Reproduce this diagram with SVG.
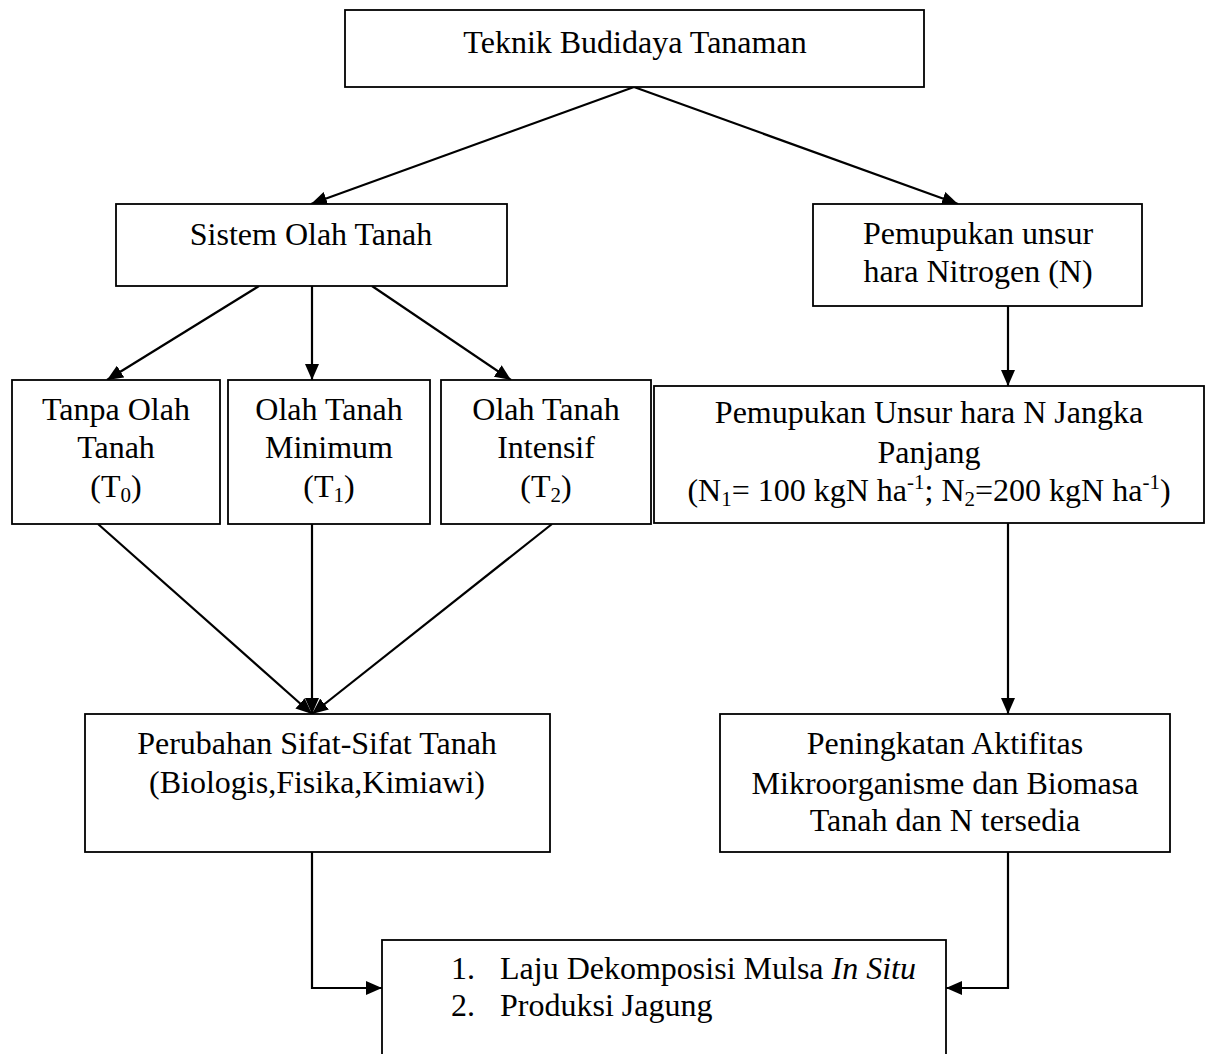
<svg xmlns="http://www.w3.org/2000/svg" width="1208" height="1054" viewBox="0 0 1208 1054">
<style>
.box{fill:#fff;stroke:#000;stroke-width:1.8}
.t{font-family:"Liberation Serif","Times New Roman",serif;font-size:32px;fill:#000;text-anchor:middle}
.l{text-anchor:start}
.s{font-size:21px}
.c{fill:none;stroke:#000;stroke-width:2.2}
</style>
<defs>
<marker id="ah" viewBox="0 0 16 14" refX="16" refY="7" markerWidth="16" markerHeight="14" markerUnits="userSpaceOnUse" orient="auto">
<path d="M0,0 L16,7 L0,14 Z" fill="#000"/>
</marker>
</defs>
<rect width="1208" height="1054" fill="#fff"/>
<g id="connectors">
<line class="c" x1="634" y1="87" x2="311" y2="204" marker-end="url(#ah)"/>
<line class="c" x1="634" y1="87" x2="958" y2="204" marker-end="url(#ah)"/>
<line class="c" x1="259" y1="286" x2="107" y2="380" marker-end="url(#ah)"/>
<line class="c" x1="312" y1="286" x2="312" y2="380" marker-end="url(#ah)"/>
<line class="c" x1="372" y1="286" x2="511" y2="380" marker-end="url(#ah)"/>
<line class="c" x1="1008" y1="306" x2="1008" y2="386" marker-end="url(#ah)"/>
<line class="c" x1="98" y1="524" x2="312" y2="714" marker-end="url(#ah)"/>
<line class="c" x1="312" y1="524" x2="312" y2="714" marker-end="url(#ah)"/>
<line class="c" x1="552" y1="524" x2="312" y2="714" marker-end="url(#ah)"/>
<line class="c" x1="1008" y1="523" x2="1008" y2="714" marker-end="url(#ah)"/>
<polyline class="c" points="312,852 312,988 382,988" marker-end="url(#ah)"/>
<polyline class="c" points="1008,852 1008,988 946,988" marker-end="url(#ah)"/>
</g>
<g id="n-teknik">
<rect class="box" x="345" y="10" width="579" height="77"/>
<text class="t" x="635" y="53">Teknik Budidaya Tanaman</text>
</g>
<g id="n-sistem">
<rect class="box" x="116" y="204" width="391" height="82"/>
<text class="t" x="311" y="245">Sistem Olah Tanah</text>
</g>
<g id="n-pemupukan">
<rect class="box" x="813" y="204" width="329" height="102"/>
<text class="t" x="978" y="244">Pemupukan unsur</text>
<text class="t" x="978" y="282">hara Nitrogen (N)</text>
</g>
<g id="n-t0">
<rect class="box" x="12" y="380" width="208" height="144"/>
<text class="t" x="116" y="420">Tanpa Olah</text>
<text class="t" x="116" y="458">Tanah</text>
<text class="t" x="116" y="497">(T<tspan class="s" dy="5">0</tspan><tspan dy="-5">)</tspan></text>
</g>
<g id="n-t1">
<rect class="box" x="228" y="380" width="202" height="144"/>
<text class="t" x="329" y="420">Olah Tanah</text>
<text class="t" x="329" y="458">Minimum</text>
<text class="t" x="329" y="497">(T<tspan class="s" dy="5">1</tspan><tspan dy="-5">)</tspan></text>
</g>
<g id="n-t2">
<rect class="box" x="441" y="380" width="210" height="144"/>
<text class="t" x="546" y="420">Olah Tanah</text>
<text class="t" x="546" y="458">Intensif</text>
<text class="t" x="546" y="497">(T<tspan class="s" dy="5">2</tspan><tspan dy="-5">)</tspan></text>
</g>
<g id="n-jangka">
<rect class="box" x="654" y="386" width="550" height="137"/>
<text class="t" x="929" y="423">Pemupukan Unsur hara N Jangka</text>
<text class="t" x="929" y="463">Panjang</text>
<text class="t" x="929" y="501">(N<tspan class="s" dy="5">1</tspan><tspan dy="-5">= 100 kgN ha</tspan><tspan class="s" dy="-12">-1</tspan><tspan dy="12">; N</tspan><tspan class="s" dy="5">2</tspan><tspan dy="-5">=200 kgN ha</tspan><tspan class="s" dy="-12">-1</tspan><tspan dy="12">)</tspan></text>
</g>
<g id="n-perubahan">
<rect class="box" x="85" y="714" width="465" height="138"/>
<text class="t" x="317" y="754">Perubahan Sifat-Sifat Tanah</text>
<text class="t" x="317" y="793">(Biologis,Fisika,Kimiawi)</text>
</g>
<g id="n-peningkatan">
<rect class="box" x="720" y="714" width="450" height="138"/>
<text class="t" x="945" y="754">Peningkatan Aktifitas</text>
<text class="t" x="945" y="794">Mikroorganisme dan Biomasa</text>
<text class="t" x="945" y="831">Tanah dan N tersedia</text>
</g>
<g id="n-hasil">
<rect class="box" x="382" y="940" width="564" height="130"/>
<text class="t l" x="451" y="979">1.</text>
<text class="t l" x="500" y="979">Laju Dekomposisi Mulsa <tspan font-style="italic">In Situ</tspan></text>
<text class="t l" x="451" y="1016">2.</text>
<text class="t l" x="500" y="1016">Produksi Jagung</text>
</g>
</svg>
